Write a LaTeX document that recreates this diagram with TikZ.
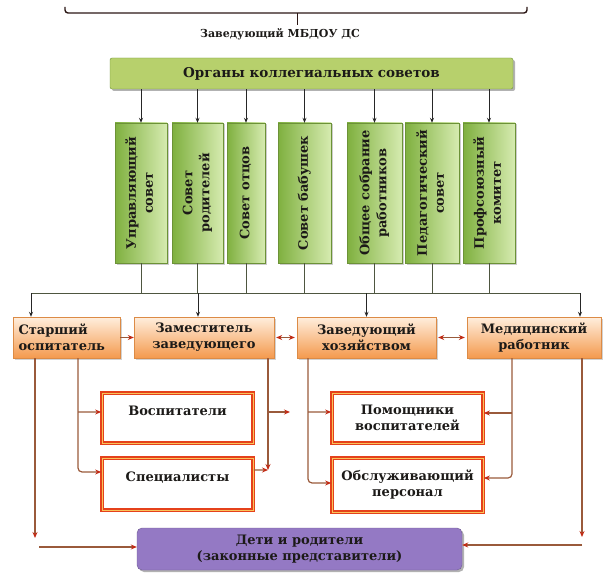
\documentclass[tikz,border=0pt]{standalone}
\usepackage{fontspec}
\setmainfont{DejaVu Serif}
\usetikzlibrary{arrows.meta,shadows}

\definecolor{barfill}{HTML}{B7D06C}
\definecolor{gdark}{HTML}{7FB03F}
\definecolor{glight}{HTML}{D6EBB0}
\definecolor{gline}{HTML}{6C9237}
\definecolor{otop}{HTML}{FFEEDD}
\definecolor{obot}{HTML}{F49A4E}
\definecolor{redline}{HTML}{E5411B}
\definecolor{redinner}{HTML}{F9C35A}
\definecolor{purp}{HTML}{9479C4}
\definecolor{brownline}{HTML}{9A5A3B}
\definecolor{headred}{HTML}{C22A14}
\definecolor{busline}{HTML}{4E5640}
\definecolor{topline}{HTML}{2B1715}
\definecolor{ink}{HTML}{1C1A18}

\newcommand\vtext[1]{\rotatebox{90}{\begin{tabular}{@{}c@{}}#1\end{tabular}}}

\tikzset{
  headtext/.style={text=ink, font=\bfseries\fontsize{11}{13}\selectfont},
  organs/.style={draw=gline, fill=barfill, rounded corners=2pt, text=ink,
    font=\bfseries\fontsize{13.5}{16}\selectfont,
    drop shadow={shadow xshift=2pt, shadow yshift=-2pt, fill=black!60}},
  council/.style={draw=gline, left color=gdark, right color=glight,
    minimum height=140pt, inner sep=0pt, text=ink,
    font=\bfseries\fontsize{13}{17}\selectfont,
    drop shadow={shadow xshift=1.5pt, shadow yshift=-1.5pt, fill=black!40}},
  staff/.style={top color=otop, bottom color=obot, draw=obot!90!black,
    minimum height=41pt, align=center, text=ink,
    font=\bfseries\fontsize{13}{16}\selectfont,
    drop shadow={shadow xshift=2pt, shadow yshift=-2pt, fill=black!35}},
  unitbox/.style={draw=redline, line width=1.7pt, double=redinner,
    double distance=.7pt, fill=white, minimum width=151pt, align=center,
    text=ink, font=\bfseries\fontsize{13}{16}\selectfont},
  hightext/.style={text depth=14pt},
  famibox/.style={fill=purp, draw=purp!75!black, rounded corners=5pt,
    align=center, text=ink, font=\bfseries\fontsize{13}{16}\selectfont,
    drop shadow={shadow xshift=2pt, shadow yshift=-2pt, fill=black!60}},
  feed/.style={draw=black!85, line width=.8pt, -{Stealth[length=5pt,width=4pt]}},
  bus/.style={draw=busline, line width=1pt},
  link/.style={draw=brownline, line width=1.2pt,
    -{Stealth[length=6pt,width=5pt,color=headred]}},
  twoway/.style={draw=brownline, line width=1.2pt, shorten <=2pt, shorten >=2pt,
    {Stealth[length=6pt,width=5pt,color=headred]}-{Stealth[length=6pt,width=5pt,color=headred]}},
}

\begin{document}
\begin{tikzpicture}[x=10pt,y=10pt]
\useasboundingbox (0,0) rectangle (60.3,-57.5);

% head of the tree
\coordinate (head) at (29.7,-1.3);
\draw[topline, line width=1.4pt, rounded corners=3pt]
    (6.5,-0.7) -- (6.5,-1.3) -- (52.7,-1.3) -- (52.7,-0.7);
\node[headtext] (zav) at (28.0,-3.4) {Заведующий МБДОУ ДС};
\draw[topline, line width=1pt] (head) -- (head |- 0,-2.5);

\node[organs, minimum width=403pt, minimum height=31pt] (organs) at (31.15,-7.35)
    {Органы коллегиальных советов};

% councils
\node[council, minimum width=52pt] (upr)  at (14.1 ,-19.3) {\vtext{Управляющий\\совет}};
\node[council, minimum width=51pt] (rod)  at (19.75,-19.3) {\vtext{Совет\\родителей}};
\node[council, minimum width=38pt] (otc)  at (24.6 ,-19.3) {\vtext{Совет отцов}};
\node[council, minimum width=53pt] (bab)  at (30.45,-19.3) {\vtext{Совет бабушек}};
\node[council, minimum width=55pt] (sobr) at (37.45,-19.3) {\vtext{Общее собрание\\работников}};
\node[council, minimum width=54pt] (ped)  at (43.2 ,-19.3) {\vtext{Педагогический\\совет}};
\node[council, minimum width=52pt] (prof) at (48.9 ,-19.3) {\vtext{Профсоюзный\\комитет}};

\draw[feed] (organs.south -| upr.north)  -- (upr.north);
\draw[feed] (organs.south -| rod.north)  -- (rod.north);
\draw[feed] (organs.south -| otc.north)  -- (otc.north);
\draw[feed] (organs.south -| bab.north)  -- (bab.north);
\draw[feed] (organs.south -| sobr.north) -- (sobr.north);
\draw[feed] (organs.south -| ped.north)  -- (ped.north);
\draw[feed] (organs.south -| prof.north) -- (prof.north);

% bus
\coordinate (busL) at (3.1,-29.3);
\coordinate (busR) at (58.0,-29.3);
\draw[bus] (busL) -- (busR);
\draw[bus] (upr.south)  -- (upr.south  |- busL);
\draw[bus] (rod.south)  -- (rod.south  |- busL);
\draw[bus] (otc.south)  -- (otc.south  |- busL);
\draw[bus] (bab.south)  -- (bab.south  |- busL);
\draw[bus] (sobr.south) -- (sobr.south |- busL);
\draw[bus] (ped.south)  -- (ped.south  |- busL);
\draw[bus] (prof.south) -- (prof.south |- busL);

% staff
\node[staff, minimum width=107pt, align=left, text width=96pt] (starsh) at (6.65,-33.75)
    {Старший\\оспитатель};
\node[staff, minimum width=140pt] (zam)    at (20.4 ,-33.75) {Заместитель\\заведующего};
\node[staff, minimum width=139pt] (zavhoz) at (36.65,-33.75) {Заведующий\\хозяйством};
\node[staff, minimum width=134pt] (med)    at (53.4 ,-33.75) {Медицинский\\работник};

\draw[feed] (busL) -- (starsh.north -| busL);
\draw[feed] ([xshift=-6pt]zam.north |- busL) -- ([xshift=-6pt]zam.north);
\draw[feed] (zavhoz.north |- busL) -- (zavhoz.north);
\draw[feed] (busR) -- (med.north -| busR);

\draw[link] (starsh.east) -- (zam.west);
\draw[twoway] (zam.east) -- (zavhoz.west);
\draw[twoway] (zavhoz.east) -- (med.west);

% units
\node[unitbox, hightext, minimum height=50pt] (vosp) at (17.75,-41.8) {Воспитатели};
\node[unitbox, hightext, minimum height=52pt] (spec) at (17.75,-48.4) {Специалисты};
\node[unitbox, minimum height=50pt] (pom)  at (40.75,-41.8) {Помощники\\воспитателей};
\node[unitbox, minimum height=54pt] (obsl) at (40.75,-48.5) {Обслуживающий\\персонал};

\node[famibox, minimum width=325pt, minimum height=42pt] (deti) at (29.95,-54.9)
    {Дети и родители\\(законные представители)};

% from the senior teacher
\coordinate (sL) at (3.5,-53.8);
\coordinate (dL) at (3.9,-54.7);
\coordinate (sV) at (7.8,-41.2);
\draw[link] (starsh.south -| sL) -- (sL);
\draw[link] (dL) -- (dL -| deti.west);
\draw[link, rounded corners=4pt] (starsh.south -| sV) |- ([yshift=12pt]spec.west);
\draw[link] (sV) -- ([yshift=6pt]vosp.west);

% from the deputy
\coordinate (zEnd) at (26.8,-47.0);
\coordinate (zV)   at (26.8,-41.2);
\coordinate (zArr) at (29.0,-41.2);
\draw[link] (zam.south -| zEnd) -- (zEnd);
\draw[link] ([yshift=14pt]spec.east) -- (zEnd);
\draw[link] (zV) -- (zArr);

% from the housekeeper
\coordinate (hV) at (30.8,-41.2);
\draw[link, rounded corners=4pt] (zavhoz.south -| hV) |- ([yshift=2pt]obsl.west);
\draw[link] (hV) -- ([yshift=6pt]pom.west);

% from the nurse
\coordinate (mV) at (51.2,-41.3);
\coordinate (mR) at (58.2,-53.7);
\coordinate (dR) at (58.2,-54.5);
\draw[link, rounded corners=4pt] (med.south -| mV) |- ([yshift=7pt]obsl.east);
\draw[link] (mV) -- ([yshift=5pt]pom.east);
\draw[link] (med.south -| mR) -- (mR);
\draw[link] (dR) -- (dR -| deti.east);
\end{tikzpicture}
\end{document}
